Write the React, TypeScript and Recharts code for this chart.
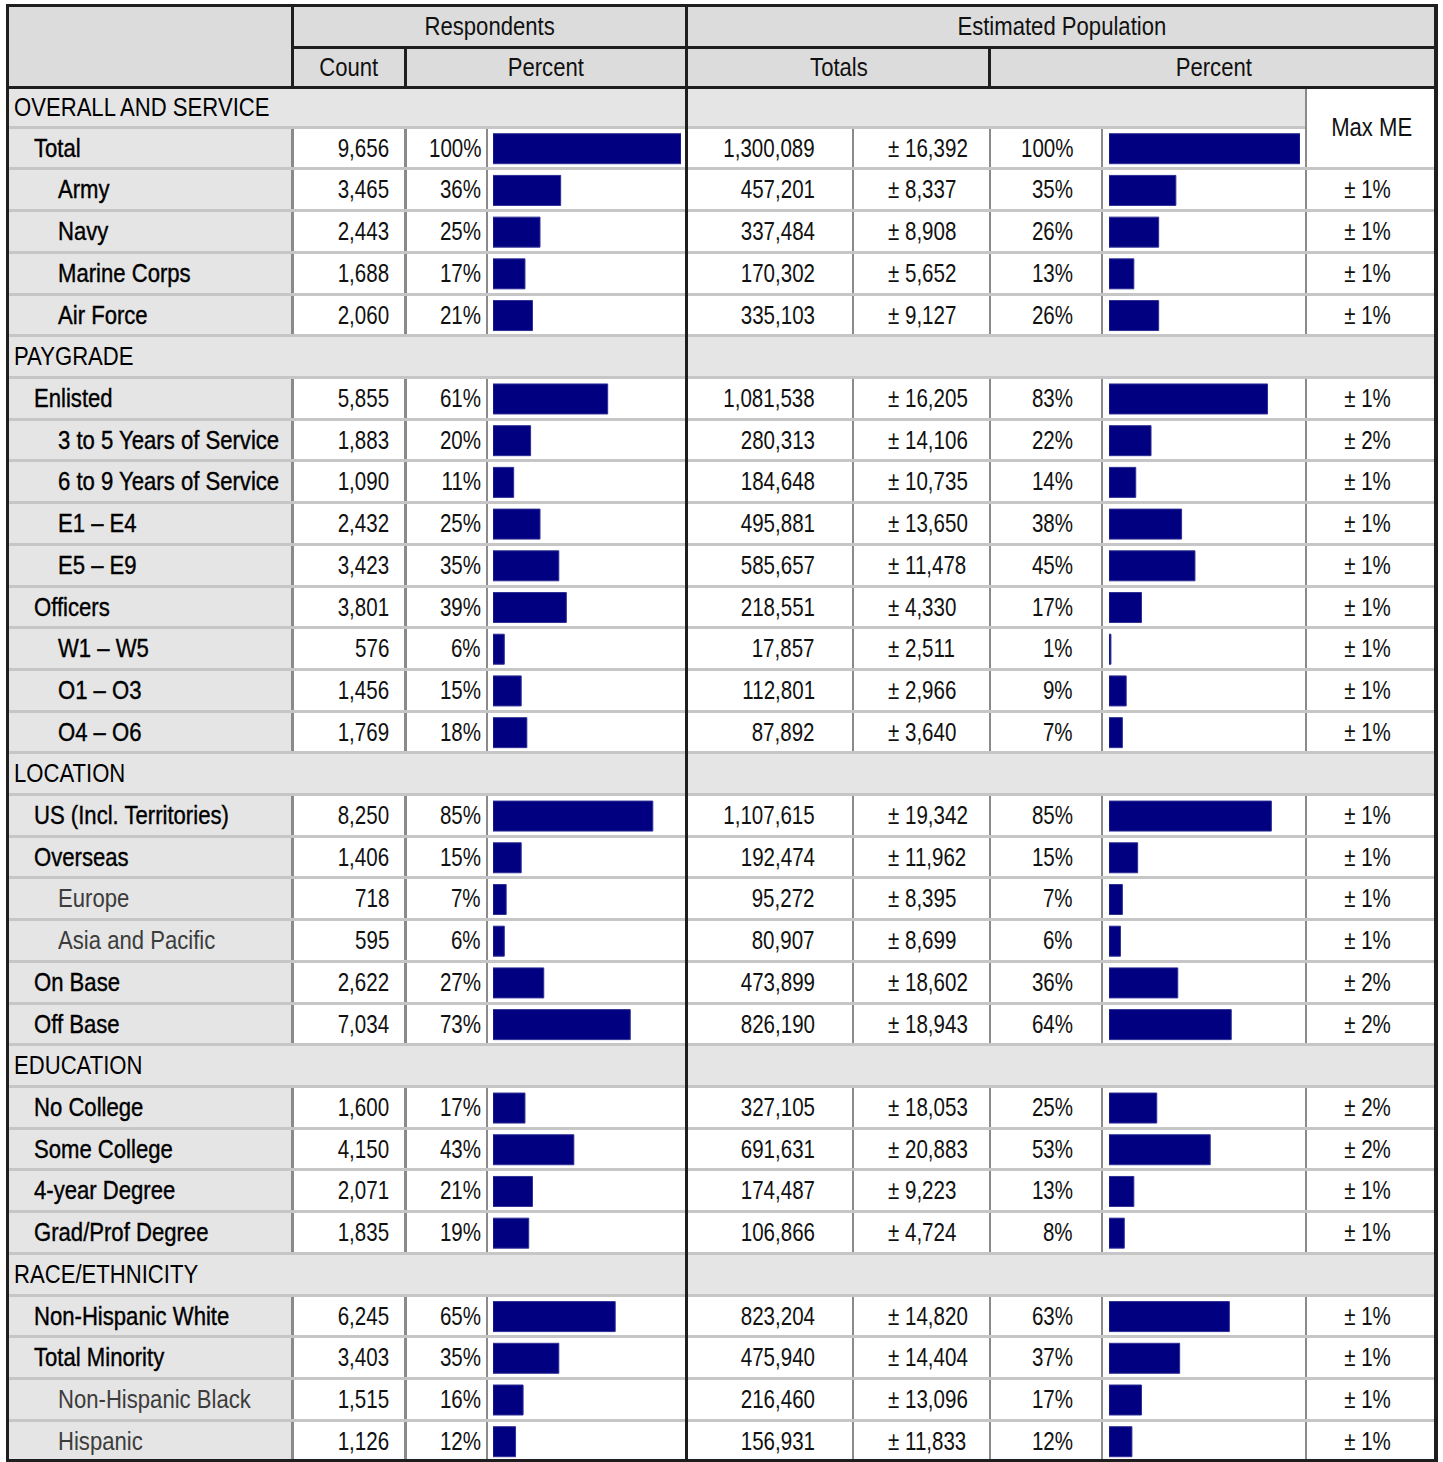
import React from 'react'
import { Bar, BarChart, XAxis, YAxis } from 'recharts'

// 0 = section heading, 1 = group, 2 = sub item, 3 = sub item (light)
const rowLabels = [
  'OVERALL AND SERVICE', 'Total', 'Army', 'Navy', 'Marine Corps', 'Air Force',
  'PAYGRADE', 'Enlisted', '3 to 5 Years of Service', '6 to 9 Years of Service', 'E1 – E4', 'E5 – E9',
  'Officers', 'W1 – W5', 'O1 – O3', 'O4 – O6',
  'LOCATION', 'US (Incl. Territories)', 'Overseas', 'Europe', 'Asia and Pacific', 'On Base', 'Off Base',
  'EDUCATION', 'No College', 'Some College', '4-year Degree', 'Grad/Prof Degree',
  'RACE/ETHNICITY', 'Non-Hispanic White', 'Total Minority', 'Non-Hispanic Black', 'Hispanic',
]
const rowLevels = [
  0, 1, 2, 2, 2, 2,
  0, 1, 2, 2, 2, 2, 1, 2, 2, 2,
  0, 1, 1, 3, 3, 1, 1,
  0, 1, 1, 1, 1,
  0, 1, 1, 3, 3,
]
const respCounts = [
  '', '9,656', '3,465', '2,443', '1,688', '2,060',
  '', '5,855', '1,883', '1,090', '2,432', '3,423', '3,801', '576', '1,456', '1,769',
  '', '8,250', '1,406', '718', '595', '2,622', '7,034',
  '', '1,600', '4,150', '2,071', '1,835',
  '', '6,245', '3,403', '1,515', '1,126',
]
const respPercents = [
  null, 100, 36, 25, 17, 21,
  null, 61, 20, 11, 25, 35, 39, 6, 15, 18,
  null, 85, 15, 7, 6, 27, 73,
  null, 17, 43, 21, 19,
  null, 65, 35, 16, 12,
]
const estTotals = [
  '', '1,300,089', '457,201', '337,484', '170,302', '335,103',
  '', '1,081,538', '280,313', '184,648', '495,881', '585,657', '218,551', '17,857', '112,801', '87,892',
  '', '1,107,615', '192,474', '95,272', '80,907', '473,899', '826,190',
  '', '327,105', '691,631', '174,487', '106,866',
  '', '823,204', '475,940', '216,460', '156,931',
]
const estMargins = [
  '', '16,392', '8,337', '8,908', '5,652', '9,127',
  '', '16,205', '14,106', '10,735', '13,650', '11,478', '4,330', '2,511', '2,966', '3,640',
  '', '19,342', '11,962', '8,395', '8,699', '18,602', '18,943',
  '', '18,053', '20,883', '9,223', '4,724',
  '', '14,820', '14,404', '13,096', '11,833',
]
const estPercents = [
  null, 100, 35, 26, 13, 26,
  null, 83, 22, 14, 38, 45, 17, 1, 9, 7,
  null, 85, 15, 7, 6, 36, 64,
  null, 25, 53, 13, 8,
  null, 63, 37, 17, 12,
]
const maxME = [
  '', '', '1', '1', '1', '1',
  '', '1', '2', '1', '1', '1', '1', '1', '1', '1',
  '', '1', '1', '1', '1', '2', '2',
  '', '2', '2', '1', '1',
  '', '1', '1', '1', '1',
]

const rows = rowLabels.map((label, i) => ({
  key: String(i),
  label,
  resp: respPercents[i],
  est: estPercents[i],
}))

// no narrow face installed: Liberation Sans squeezed horizontally
const FONT = "'Liberation Sans', Arial, sans-serif"
const SX_NUM = 0.79
const SX_LABEL = 0.85
const SX_HEAD = 0.85
const TOP = 87
const ROW_H = 41.71
const BODY_H = ROW_H * rows.length // last row runs under the bottom border
const rowTop = (i: number) => TOP + i * ROW_H

const HEADER_BG = '#dcdcdc'
const LABEL_BG = '#e5e5e5'
const SEP = '#c6c6c6'
const GRID = '#8a8a8a'
const DARK = '#1e1e1e'

const Box = ({ x, y, w, h, bg }: { x: number; y: number; w: number; h: number; bg: string }) => (
  <div style={{ position: 'absolute', left: x, top: y, width: w, height: h, background: bg }} />
)

const Txt = ({
  x1, x2, y, h, align = 'left', padL = 0, padR = 0, sx = SX_NUM, children, style,
}: {
  x1: number; x2: number; y: number; h: number; align?: 'left' | 'right' | 'center'
  padL?: number; padR?: number; sx?: number; children: React.ReactNode; style?: React.CSSProperties
}) => (
  <div
    style={{
      position: 'absolute', left: x1, top: y, width: x2 - x1, height: h, lineHeight: `${h}px`,
      textAlign: align, paddingLeft: padL, paddingRight: padR, boxSizing: 'border-box',
      whiteSpace: 'nowrap',
    }}
  >
    <span
      style={{
        display: 'inline-block',
        transform: `scaleX(${sx})`,
        transformOrigin: align === 'center' ? 'center' : align,
        ...style,
      }}
    >
      {children}
    </span>
  </div>
)

const PercentBars = ({ dataKey, width }: { dataKey: 'resp' | 'est'; width: number }) => (
  <BarChart
    width={width}
    height={BODY_H}
    data={rows}
    layout="vertical"
    margin={{ top: 0, right: 0, bottom: 0, left: 0 }}
    barSize={30}
  >
    <XAxis type="number" domain={[0, 100]} hide />
    <YAxis type="category" dataKey="key" hide />
    <Bar dataKey={dataKey} fill="#000080" stroke="#2e2e96" strokeWidth={1} isAnimationActive={false} />
  </BarChart>
)

const dataLines = [292, 405, 487, 853, 990, 1102, 1306]

export default function App() {
  const labelPad = [6, 26, 50, 50]
  return (
    <div
      style={{
        position: 'absolute', left: 0, top: 0, width: 1443, height: 1462, background: '#fff',
        fontFamily: FONT, fontSize: 26, color: '#111', overflow: 'hidden',
      }}
    >
      {/* backgrounds */}
      <Box x={8} y={5} w={1429} h={83} bg={HEADER_BG} />
      <Box x={8} y={TOP} w={284} h={BODY_H} bg={LABEL_BG} />

      {/* light grid in data rows */}
      {dataLines.map((x) => (
        <Box key={x} x={x - 1} y={TOP} w={x === 292 || x === 405 ? 3 : 2} h={BODY_H} bg={GRID} />
      ))}

      {/* section rows */}
      {rows.map((r, i) =>
        rowLevels[i] === 0 ? (
          <React.Fragment key={r.key}>
            <Box x={8} y={rowTop(i)} w={i === 0 ? 1297 : 1429} h={ROW_H} bg={LABEL_BG} />
            {i === 0 && <Box x={1305} y={rowTop(i)} w={2} h={ROW_H} bg={GRID} />}
          </React.Fragment>
        ) : null,
      )}

      {/* row separators */}
      {rows.map((r, i) => (
        <Box key={r.key} x={8} y={rowTop(i + 1) - 3} w={i === 0 ? 1297 : 1429} h={3} bg={SEP} />
      ))}

      {/* dark structure lines */}
      <Box x={291} y={5} w={3} h={84} bg={DARK} />
      <Box x={292} y={46} w={1145} h={3} bg={DARK} />
      <Box x={404} y={47} w={3} h={42} bg={DARK} />
      <Box x={988} y={47} w={3} h={42} bg={DARK} />
      <Box x={8} y={86} w={1429} h={3} bg={DARK} />
      <Box x={685} y={5} w={3} h={1457} bg={DARK} />
      {/* outer border */}
      <Box x={6} y={4} w={1432} h={3} bg={DARK} />
      <Box x={6} y={4} w={3} h={1458} bg={DARK} />
      <Box x={1434} y={4} w={4} h={1458} bg={DARK} />
      <Box x={6} y={1459} w={1432} h={3} bg={DARK} />

      {/* header text */}
      <Txt x1={292} x2={687} y={6} h={41} align="center" sx={SX_HEAD}>Respondents</Txt>
      <Txt x1={687} x2={1437} y={6} h={41} align="center" sx={SX_HEAD}>Estimated Population</Txt>
      <Txt x1={292} x2={405} y={48} h={39} align="center" sx={SX_HEAD}>Count</Txt>
      <Txt x1={405} x2={687} y={48} h={39} align="center" sx={SX_HEAD}>Percent</Txt>
      <Txt x1={687} x2={990} y={48} h={39} align="center" sx={SX_HEAD}>Totals</Txt>
      <Txt x1={990} x2={1437} y={48} h={39} align="center" sx={SX_HEAD}>Percent</Txt>
      <Txt x1={1306} x2={1437} y={TOP} h={2 * ROW_H - 3} align="center" sx={SX_HEAD}>Max ME</Txt>

      {/* body text */}
      {rows.map((r, i) => {
        const y = rowTop(i) + (i === 0 ? 1 : 0)
        const h = ROW_H - 3
        const lvl = rowLevels[i]
        const labelStyle: React.CSSProperties =
          lvl === 3 ? { color: '#3c3c3c' } : lvl === 0 ? { color: '#000' } : { color: '#000', WebkitTextStroke: '0.4px #000' }
        return (
          <React.Fragment key={r.key}>
            <Txt x1={8} x2={292} y={y} h={h} padL={labelPad[lvl]} sx={SX_LABEL} style={labelStyle}>{r.label}</Txt>
            {lvl !== 0 && (
              <>
                <Txt x1={292} x2={405} y={y} h={h} align="right" padR={16}>{respCounts[i]}</Txt>
                <Txt x1={405} x2={487} y={y} h={h} align="right" padR={6}>{`${respPercents[i]}%`}</Txt>
                <Txt x1={687} x2={853} y={y} h={h} align="right" padR={38}>{estTotals[i]}</Txt>
                <Txt x1={853} x2={990} y={y} h={h} padL={35}>{`± ${estMargins[i]}`}</Txt>
                <Txt x1={990} x2={1102} y={y} h={h} align="right" padR={29}>{`${estPercents[i]}%`}</Txt>
                {maxME[i] && (
                  <Txt x1={1306} x2={1437} y={y} h={h} align="center" padR={8}>{`± ${maxME[i]}%`}</Txt>
                )}
              </>
            )}
          </React.Fragment>
        )
      })}

      {/* bars */}
      <div style={{ position: 'absolute', left: 493, top: TOP - 1.5 }}>
        <PercentBars dataKey="resp" width={188} />
      </div>
      <div style={{ position: 'absolute', left: 1109, top: TOP - 1.5 }}>
        <PercentBars dataKey="est" width={191} />
      </div>
    </div>
  )
}
